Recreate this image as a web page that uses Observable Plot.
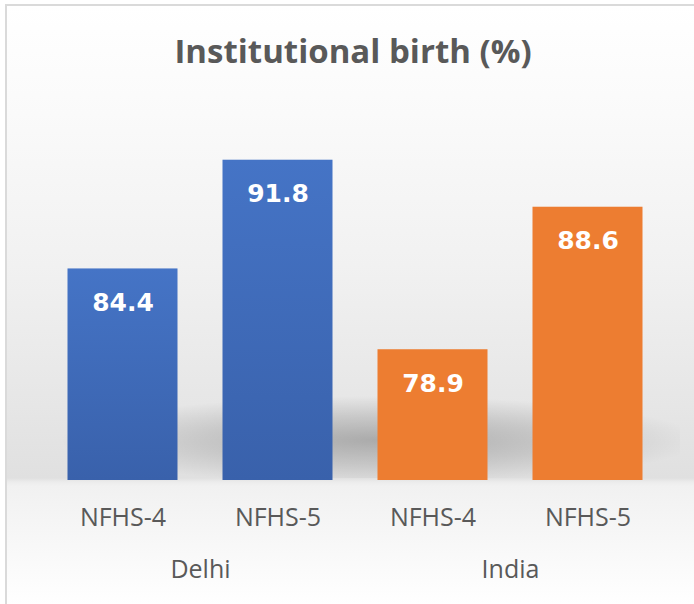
<!DOCTYPE html>
<html>
<head>
<meta charset="utf-8">
<script src="https://cdn.jsdelivr.net/npm/d3@7"></script>
<script src="https://cdn.jsdelivr.net/npm/@observablehq/plot@0.6"></script>
<style>
  html, body { margin: 0; padding: 0; background: #ffffff; }
  #wrap { position: relative; width: 694px; height: 604px; overflow: hidden; background: #ffffff; }
  #frame {
    position: absolute; left: 5px; top: 4px; width: 720px; height: 620px;
    border-left: 2px solid #dadada; border-top: 2px solid #dadada;
    background: linear-gradient(to bottom,
      #ffffff 0px, #fbfbfb 90px, #f1f1f1 260px, #e6e6e6 400px,
      #e0e0e0 472px, #ececec 476px, #f1f1f1 480px, #f8f8f8 540px, #ffffff 600px);
  }
  #shadow {
    position: absolute; left: 60px; top: 394px; width: 620px; height: 84px;
    background: radial-gradient(ellipse 320px 44px at 320px 46px, rgba(0,0,0,0.25) 0%, rgba(0,0,0,0.12) 55%, rgba(0,0,0,0) 100%);
  }
  #title {
    position: absolute; left: 353px; top: 34px; transform: translateX(-50%);
    font-family: "Open Sans", sans-serif; font-weight: 700; font-size: 33px;
    line-height: 1; color: #595959; white-space: nowrap;
  }
  #chart { position: absolute; left: 0; top: 0; }
</style>
</head>
<body>
<div id="wrap">
  <div id="frame"></div>
  <div id="shadow"></div>
  <div id="title"></div>
  <div id="chart"></div>
</div>
<script>
const chartTitle = "Institutional birth (%)";
const groups = ["Delhi", "India"];
const surveys = ["NFHS-4", "NFHS-5"];
const regionOfBar = ["Delhi", "Delhi", "India", "India"];
const surveyOfBar = ["NFHS-4", "NFHS-5", "NFHS-4", "NFHS-5"];
const values = [84.4, 91.8, 78.9, 88.6];

const rows = values.map((v, i) => ({region: regionOfBar[i], survey: surveyOfBar[i], value: v}));

document.getElementById("title").textContent = chartTitle;

const chart = Plot.plot({
  width: 694,
  height: 604,
  marginTop: 112.7,
  marginBottom: 124,
  marginLeft: 44.5,
  marginRight: 29.5,
  style: {background: "transparent", overflow: "visible", fontFamily: "'Open Sans', sans-serif"},
  fx: {domain: groups, paddingInner: 0, paddingOuter: 0, axis: null, label: null},
  x: {domain: surveys, paddingInner: 0.29, paddingOuter: 0.145, axis: null, label: null},
  y: {domain: [70, 95], clamp: true, axis: null},
  color: {domain: groups, range: ["url(#blueGrad)", "#ed7d31"]},
  marks: [
    Plot.barY(rows, {fx: "region", x: "survey", y: "value", fill: "region"}),
    Plot.text(rows, {
      fx: "region", x: "survey", y: "value", text: d => d.value.toFixed(1),
      dy: 42, lineAnchor: "bottom", fill: "#ffffff",
      fontFamily: "'DejaVu Sans', sans-serif", fontWeight: "bold", fontSize: 25
    }),
    Plot.text(rows, {
      fx: "region", x: "survey", text: "survey", frameAnchor: "bottom",
      dy: 45, lineAnchor: "bottom", fill: "#595959", fontSize: 25
    }),
    Plot.text(groups, {
      fx: d => d, text: d => d, frameAnchor: "bottom",
      dy: 97, lineAnchor: "bottom", fill: "#595959", fontSize: 25
    })
  ]
});

const svg = d3.select(chart);
const defs = svg.insert("defs", ":first-child");
const g = defs.append("linearGradient").attr("id", "blueGrad")
  .attr("x1", 0).attr("y1", 0).attr("x2", 0).attr("y2", 1);
g.append("stop").attr("offset", "0%").attr("stop-color", "#4574c6");
g.append("stop").attr("offset", "100%").attr("stop-color", "#3961ab");

document.getElementById("chart").appendChild(chart);
</script>
</body>
</html>
